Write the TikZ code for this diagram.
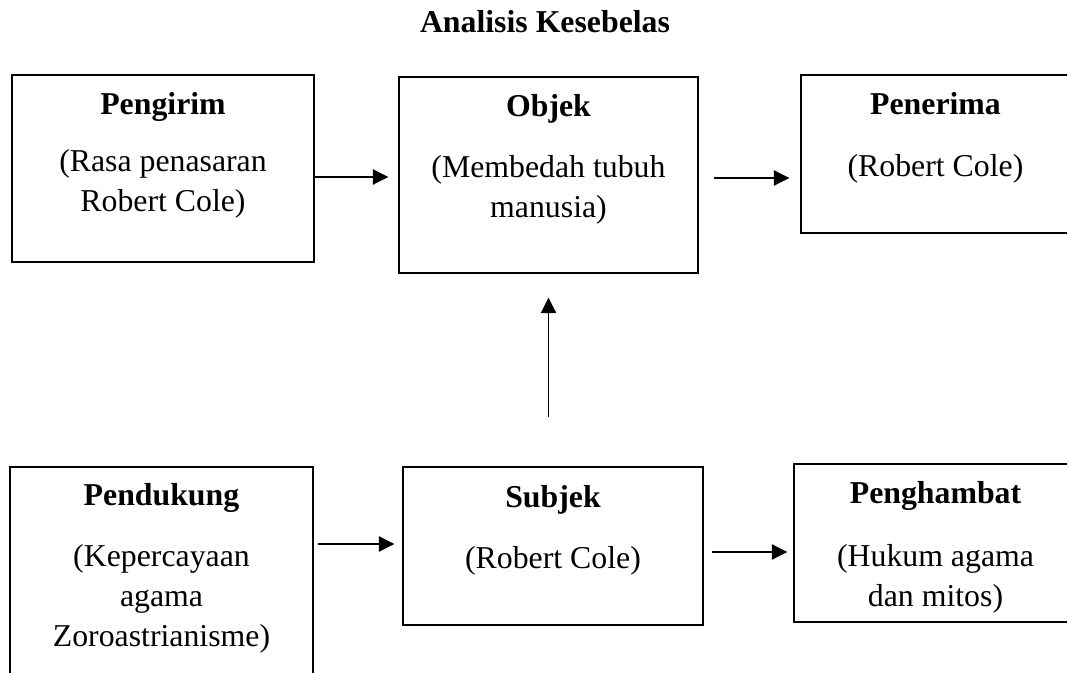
\documentclass[tikz,border=0pt]{standalone}
\usepackage{fontspec}
\setmainfont{Liberation Serif}
\usetikzlibrary{arrows.meta,fit}
\begin{document}
\begin{tikzpicture}[x=0.75pt,y=-0.75pt,
  box/.style={draw,line width=1.1pt,inner sep=0pt},
  heading/.style={font=\fontsize{23.85}{28}\selectfont\bfseries,anchor=base,inner sep=0pt},
  body/.style={font=\fontsize{23.85}{30}\selectfont,align=center,anchor=base,inner sep=0pt},
  arr/.style={line width=0.8pt,-{Triangle[length=11.5pt,width=11.5pt]}}]
\useasboundingbox (0,0) rectangle (1067,673);
\fill[white] (0,0) rectangle (1067,673);
\clip (0,0) rectangle (1067,673);

\node[heading] (title) at (545,33) {Analisis Kesebelas};

% boxes (those at the edge run past the frame)
\node[box,fit={(12,75) (314,262)}] (pengirim) {};
\node[box,fit={(399,77) (698,273)}] (objek) {};
\node[box,fit={(801,75) (1070,233)}] (penerima) {};
\node[box,fit={(10,467) (313,720)}] (pendukung) {};
\node[box,fit={(403,467) (703,625)}] (subjek) {};
\node[box,fit={(794,464) (1077,622)}] (penghambat) {};

% texts (multi-line bodies are placed by their last baseline)
\node[heading] (t1) at (163,115) {Pengirim};
\node[body] (b1) at (163,212) {(Rasa penasaran\\Robert Cole)};
\node[heading] (t2) at (548.5,117) {Objek};
\node[body] (b2) at (548.5,218) {(Membedah tubuh\\manusia)};
\node[heading] (t3) at (935.5,115) {Penerima};
\node[body] (b3) at (935.5,177) {(Robert Cole)};
\node[heading] (t4) at (161.5,505) {Pendukung};
\node[body] (b4) at (161.5,646) {(Kepercayaan\\agama\\Zoroastrianisme)};
\node[heading] (t5) at (553,507) {Subjek};
\node[body] (b5) at (553,568) {(Robert Cole)};
\node[heading] (t6) at (935.5,503) {Penghambat};
\node[body] (b6) at (935.5,606) {(Hukum agama\\dan mitos)};

% connectors
\draw[arr,shorten >=7.5pt] (pengirim.east |- 0,177) -- (objek.west |- 0,177);
\draw[arr,shorten <=11.25pt,shorten >=8.25pt] (objek.east |- 0,178) -- (penerima.west |- 0,178);
\draw[arr,shorten <=3pt,shorten >=6pt] (pendukung.east |- 0,544) -- (subjek.west |- 0,544);
\draw[arr,shorten <=6pt,shorten >=4.5pt] (subjek.east |- 0,552) -- (penghambat.west |- 0,552);
\draw[arr,shorten <=36.75pt,shorten >=18pt] (objek.south |- subjek.north) -- (objek.south);
\end{tikzpicture}
\end{document}
